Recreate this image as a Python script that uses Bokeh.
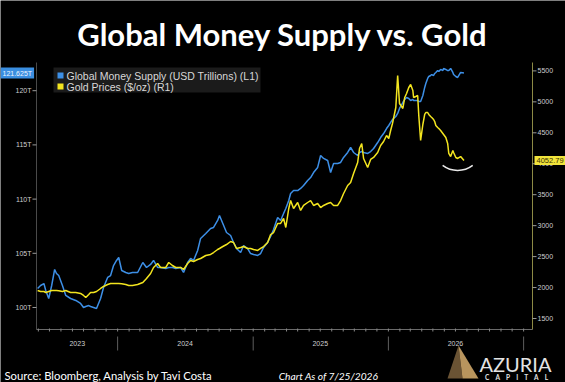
import pandas as pd
from bokeh.plotting import figure
from bokeh.models import Range1d, Label
from bokeh.core.properties import value
from bokeh.embed import file_html
from bokeh.resources import INLINE

# ---- data -------------------------------------------------------------
dates = [
    "2023-05-30", "2023-06-07", "2023-06-16", "2023-06-21", "2023-06-29", "2023-07-07",
    "2023-07-15", "2023-07-20", "2023-07-26", "2023-08-05", "2023-08-14", "2023-08-27",
    "2023-09-10", "2023-09-23", "2023-10-01", "2023-10-07", "2023-10-15", "2023-10-20",
    "2023-10-28", "2023-11-05", "2023-11-16", "2023-11-24", "2023-12-05", "2023-12-13",
    "2023-12-21", "2023-12-29", "2024-01-04", "2024-01-12", "2024-01-23", "2024-01-31",
    "2024-02-10", "2024-02-24", "2024-03-09", "2024-03-19", "2024-03-30", "2024-04-07",
    "2024-04-18", "2024-04-26", "2024-05-10", "2024-05-18", "2024-05-28", "2024-06-06",
    "2024-06-19", "2024-06-27", "2024-07-08", "2024-07-16", "2024-07-24", "2024-08-04",
    "2024-08-12", "2024-08-26", "2024-09-08", "2024-09-16", "2024-09-27", "2024-10-02",
    "2024-10-11", "2024-10-21", "2024-11-01", "2024-11-09", "2024-11-17", "2024-11-28",
    "2024-12-06", "2024-12-17", "2024-12-25", "2025-01-02", "2025-01-13", "2025-01-21",
    "2025-01-29", "2025-02-09", "2025-02-17", "2025-02-25", "2025-03-08", "2025-03-16",
    "2025-03-24", "2025-03-30", "2025-04-07", "2025-04-12", "2025-04-20", "2025-05-01",
    "2025-05-09", "2025-05-17", "2025-05-28", "2025-06-05", "2025-06-13", "2025-06-24",
    "2025-07-02", "2025-07-10", "2025-07-21", "2025-07-29", "2025-08-06", "2025-08-17",
    "2025-08-25", "2025-09-02", "2025-09-13", "2025-09-21", "2025-09-29", "2025-10-10",
    "2025-10-15", "2025-10-21", "2025-10-26", "2025-11-06", "2025-11-14", "2025-11-22",
    "2025-12-03", "2025-12-11", "2025-12-19", "2025-12-27", "2026-01-02", "2026-01-07",
    "2026-01-12", "2026-01-21", "2026-01-26", "2026-01-31", "2026-02-09", "2026-02-14",
    "2026-02-19", "2026-02-25", "2026-03-02", "2026-03-08", "2026-03-10", "2026-03-16",
    "2026-03-21", "2026-03-24", "2026-03-29", "2026-04-04", "2026-04-09", "2026-04-12",
    "2026-04-17", "2026-04-20", "2026-04-25", "2026-04-28", "2026-05-03", "2026-05-06",
    "2026-05-09", "2026-05-14", "2026-05-17", "2026-05-22", "2026-05-28", "2026-05-30",
    "2026-06-05", "2026-06-10", "2026-06-13", "2026-06-18", "2026-06-24", "2026-06-26",
    "2026-07-02", "2026-07-07", "2026-07-15", "2026-07-24",
]

# Global money supply, USD trillions (left axis)
money_supply = [
    101.75, 102.03, 102.21, 101.57, 100.83, 102.03, 103.51, 103.14, 102.95, 102.03,
    101.11, 100.83, 100.65, 100.37, 100.00, 100.09, 100.18, 100.09, 100.00, 99.91,
    100.83, 101.85, 102.77, 102.95, 103.87, 104.34, 104.61, 103.41, 103.23, 103.14,
    103.23, 103.23, 104.15, 103.69, 103.97, 104.34, 103.69, 103.69, 103.60, 103.69,
    103.69, 103.60, 103.69, 103.23, 104.15, 104.52, 104.34, 105.26, 106.37, 106.83,
    107.29, 107.38, 108.03, 108.49, 107.75, 106.92, 106.64, 106.00, 105.44, 105.07,
    105.72, 105.44, 104.98, 104.89, 104.80, 104.98, 105.54, 106.00, 106.55, 107.20,
    108.30, 108.03, 108.67, 109.13, 109.87, 110.52, 110.79, 110.79, 110.98, 111.25,
    111.72, 111.99, 112.45, 112.92, 114.02, 113.75, 113.56, 112.45, 113.28, 113.28,
    113.38, 113.84, 114.30, 114.76, 114.30, 114.02, 114.30, 114.39, 114.30, 114.21,
    114.39, 114.67, 115.22, 115.68, 116.05, 116.51, 116.79, 117.07, 117.34, 117.62,
    117.90, 118.36, 118.91, 119.19, 119.37, 119.28, 119.10, 119.19, 119.10, 119.10,
    119.10, 119.00, 119.00, 119.56, 120.30, 120.66, 121.13, 121.31, 121.40, 121.49,
    121.40, 121.59, 121.68, 121.86, 121.77, 121.96, 121.86, 122.05, 121.96, 121.86,
    121.86, 122.05, 121.68, 121.49, 121.31, 121.22, 121.68, 121.625,
]

# Gold, USD per ounce (right axis)
gold_price = [
    1952, 1936, 1936, 1920, 1936, 1952, 1952, 1952, 1948, 1936,
    1952, 1920, 1920, 1904, 1872, 1839, 1888, 1920, 1920, 1936,
    1985, 2017, 2049, 2065, 2065, 2065, 2065, 2060, 2049, 2033,
    2033, 2049, 2082, 2146, 2227, 2324, 2389, 2324, 2324, 2405,
    2356, 2324, 2324, 2292, 2389, 2437, 2421, 2453, 2469, 2518,
    2534, 2566, 2615, 2631, 2663, 2695, 2744, 2728, 2631, 2647,
    2663, 2631, 2631, 2615, 2599, 2631, 2663, 2728, 2857, 2889,
    3035, 3035, 3116, 2970, 3277, 3406, 3277, 3374, 3245, 3326,
    3374, 3406, 3326, 3358, 3293, 3326, 3358, 3374, 3326, 3326,
    3406, 3519, 3649, 3697, 3842, 4020, 4246, 4327, 4085, 3939,
    4069, 4101, 4182, 4295, 4359, 4456, 4408, 4537, 4650, 4909,
    5426, 4973, 4893, 5070, 5135, 5232, 5280, 5183, 5070, 5086,
    5103, 4779, 4376, 4634, 4796, 4828, 4828, 4796, 4763, 4747,
    4715, 4682, 4618, 4586, 4569, 4537, 4489, 4473, 4424, 4327,
    4166, 4117, 4214, 4182, 4101, 4085, 4117, 4052.79,
]

money_ticks = [100, 105, 110, 115, 120]
gold_ticks = [1500, 2000, 2500, 3000, 3500, 4000, 4500, 5000, 5500]
year_labels = ["2023", "2024", "2025", "2026"]
year_label_dates = ["2023-09-14", "2024-07-01", "2025-07-01", "2026-07-01"]
year_starts = ["2024-01-01", "2025-01-01", "2026-01-01", "2027-01-01"]
legend_labels = ["Global Money Supply (USD Trillions) (L1)", "Gold Prices ($/oz) (R1)"]

# ---- geometry ----------------------------------------------------------
# The figure's frame is the whole canvas; the chart area sits inside it and
# every scale is extended so that the chart area spans the box below.
W, H = 565, 382
PLOT_L, PLOT_R, PLOT_T, PLOT_B = 36, 532, 62, 329

t_start, t_end = pd.Timestamp("2023-05-27"), pd.Timestamp("2027-01-25")
money_lo, money_hi = 97.970, 122.601
gold_lo, gold_hi = 1322.3, 5635.7


def widen_x(a, b):
    per_px = (b - a) / (PLOT_R - PLOT_L)
    return a - PLOT_L * per_px, b + (W - PLOT_R) * per_px


def widen_y(lo, hi):
    per_px = (hi - lo) / (PLOT_B - PLOT_T)
    return lo - (H - PLOT_B) * per_px, hi + PLOT_T * per_px


BLUE = "#3d8fe6"
YELLOW = "#f3e51f"
TICK_TEXT = "#cfcfcf"
AXIS_FONT = "Liberation Sans"

vx0, vx1 = widen_x(t_start, t_end)
vy0, vy1 = widen_y(money_lo, money_hi)
gy0, gy1 = widen_y(gold_lo, gold_hi)

p = figure(width=W, height=H, title=None, x_range=Range1d(vx0, vx1), y_range=Range1d(vy0, vy1),
           output_backend="svg", toolbar_location=None, min_border=0,
           x_axis_location=None, y_axis_location=None,
           background_fill_color="black", border_fill_color="black",
           outline_line_color=None)
p.grid.visible = False
p.extra_y_ranges = {"gold": Range1d(gy0, gy1), "px": Range1d(H, 0)}
p.extra_x_ranges = {"px": Range1d(0, W)}

# ---- axes --------------------------------------------------------------
# left axis (money supply)
p.segment(x0=[PLOT_L], x1=[PLOT_L], y0=[PLOT_T], y1=[PLOT_B], x_range_name="px",
          y_range_name="px", line_color="#4a4a4a", line_width=1)
p.segment(x0=[PLOT_L - 4] * len(money_ticks), x1=[PLOT_L] * len(money_ticks),
          y0=money_ticks, y1=money_ticks, x_range_name="px",
          line_color="#9a9a9a", line_width=1)
p.text(x=[PLOT_L - 5] * len(money_ticks), y=money_ticks, text=[f"{t}T" for t in money_ticks],
       x_range_name="px", text_align="right", text_baseline="middle",
       text_color=TICK_TEXT, text_font=value(AXIS_FONT), text_font_size="7px")

# right axis (gold)
p.segment(x0=[PLOT_R], x1=[PLOT_R], y0=[PLOT_T], y1=[PLOT_B], x_range_name="px",
          y_range_name="px", line_color="#8c8a45", line_width=1)
p.segment(x0=[PLOT_R] * len(gold_ticks), x1=[PLOT_R + 4] * len(gold_ticks),
          y0=gold_ticks, y1=gold_ticks, x_range_name="px", y_range_name="gold",
          line_color="#9a9a9a", line_width=1)
p.text(x=[PLOT_R + 5] * len(gold_ticks), y=gold_ticks, text=[str(t) for t in gold_ticks],
       x_range_name="px", y_range_name="gold", text_align="left", text_baseline="middle",
       text_color=TICK_TEXT, text_font=value(AXIS_FONT), text_font_size="7px")

# bottom axis: line, monthly ticks, year separators and year names
p.segment(x0=[PLOT_L], x1=[PLOT_R], y0=[PLOT_B], y1=[PLOT_B], x_range_name="px",
          y_range_name="px", line_color="#6a6a6a", line_width=1)
months = pd.date_range("2023-06-01", "2027-01-01", freq="MS")
p.segment(x0=months, x1=months, y0=[PLOT_B - 1] * len(months), y1=[PLOT_B + 2] * len(months),
          y_range_name="px", line_color="#8a8a8a", line_width=1)
seps = pd.to_datetime(year_starts)
p.segment(x0=seps, x1=seps, y0=[PLOT_B + 7] * len(seps), y1=[PLOT_B + 21] * len(seps),
          y_range_name="px", line_color="#5e5e5e", line_width=1)
p.text(x=pd.to_datetime(year_label_dates), y=[PLOT_B + 14] * len(year_labels), text=year_labels,
       y_range_name="px", text_align="center", text_baseline="middle",
       text_color=TICK_TEXT, text_font=value(AXIS_FONT), text_font_size="7px")

# ---- series ------------------------------------------------------------
x = pd.to_datetime(dates)
p.line(x, money_supply, color=BLUE, line_width=1.5)
p.line(x, gold_price, color=YELLOW, line_width=1.5, y_range_name="gold")

# curve drawn under the recent gold pullback
p.arc(x=[pd.Timestamp("2026-07-07")], y=[4295], radius=25, radius_units="screen",
      start_angle=-127, end_angle=-53, start_angle_units="deg", end_angle_units="deg",
      line_color="#e8e8e8", line_width=1.5, y_range_name="gold")

# last-value tags beside the axes
p.add_layout(Label(x=0, x_range_name="px", y=money_supply[-1],
                   text=f"{money_supply[-1]:.3f}T", text_align="left", text_baseline="middle",
                   text_color="#eef4ff", text_font=AXIS_FONT, text_font_size="7px",
                   background_fill_color="#3a8ee0", padding=2))
p.add_layout(Label(x=PLOT_R + 2, x_range_name="px", y=gold_price[-1], y_range_name="gold",
                   text=f"{gold_price[-1]:.2f}", text_align="left", text_baseline="middle",
                   text_color="#3a3300", text_font=AXIS_FONT, text_font_size="7.5px",
                   background_fill_color="#f1e43c", padding=2))

# ---- legend box with square keys ----------------------------------------
LEG_L, LEG_R, LEG_T, LEG_B = 53, 260, 67, 92
row_y = [75, 86]
p.quad(left=[LEG_L], right=[LEG_R], top=[LEG_T], bottom=[LEG_B], x_range_name="px",
       y_range_name="px", fill_color="#1b1b1b", line_color=None)
p.rect(x=[LEG_L + 7] * 2, y=row_y, width=6, height=6, x_range_name="px", y_range_name="px",
       fill_color=[BLUE, YELLOW], line_color=None)
p.text(x=[LEG_L + 13] * 2, y=row_y, text=legend_labels, x_range_name="px", y_range_name="px",
       text_align="left", text_baseline="middle", text_color="#d8d8d8",
       text_font=value(AXIS_FONT), text_font_size="10.5px")

# ---- title and footer ---------------------------------------------------
p.add_layout(Label(x=W / 2, y=33, x_range_name="px", y_range_name="px",
                   text="Global Money Supply vs. Gold", text_align="center",
                   text_baseline="alphabetic", text_color="white", text_font="Lato",
                   text_font_style="bold", text_font_size="31px"))
p.add_layout(Label(x=4, y=375, x_range_name="px", y_range_name="px",
                   text="Source: Bloomberg, Analysis by Tavi Costa", text_align="left",
                   text_baseline="alphabetic", text_color="white", text_font="Lato",
                   text_font_size="11.3px"))
p.add_layout(Label(x=328, y=375, x_range_name="px", y_range_name="px",
                   text="Chart As of 7/25/2026", text_align="center",
                   text_baseline="alphabetic", text_color="white", text_font="Lato",
                   text_font_style="italic", text_font_size="10.2px"))

# logo: pyramid mark and wordmark
p.patch(x=[447, 458, 462], y=[378, 345, 378], x_range_name="px", y_range_name="px",
        fill_color="#6a5334", line_color=None)
p.patch(x=[462, 458, 478], y=[378, 345, 378], x_range_name="px", y_range_name="px",
        fill_color="#b8955e", line_color=None)
p.add_layout(Label(x=515, y=363, x_range_name="px", y_range_name="px",
                   text="AZURIA", text_align="center", text_baseline="alphabetic",
                   text_color="#e4e4e4", text_font="Lato", text_font_size="20px"))
p.add_layout(Label(x=516, y=377, x_range_name="px", y_range_name="px",
                   text="\u00a0\u00a0\u00a0\u00a0".join("CAPITAL"), text_align="center",
                   text_baseline="alphabetic", text_color="#e4e4e4", text_font="Lato",
                   text_font_style="bold", text_font_size="6.5px"))

open("out.html", "w").write(file_html(p, INLINE))
